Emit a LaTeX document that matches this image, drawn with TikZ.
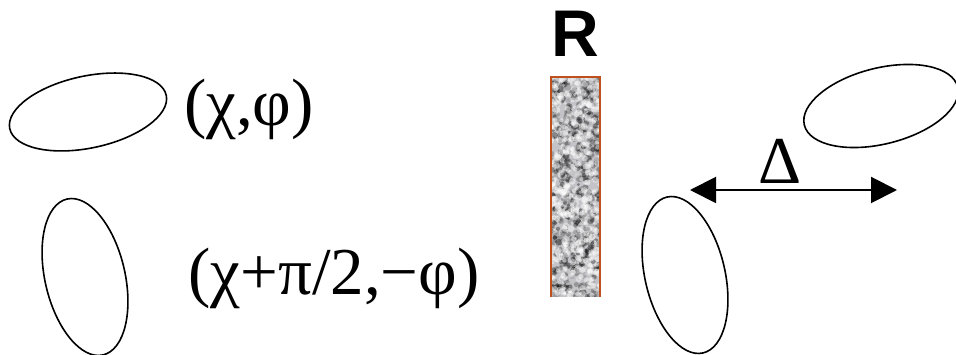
\documentclass[tikz,border=0pt]{standalone}
\usepackage{fontspec}
\setmainfont{Liberation Serif}
\setsansfont{Liberation Sans}
\usetikzlibrary{arrows.meta}
\definecolor{rust}{RGB}{190,80,30}
\definecolor{grain}{RGB}{196,196,200}

\begin{document}
\begin{tikzpicture}[x=1pt, y=1pt,
    pol/.style={draw=black, line width=1.6pt},
    lbl/.style={inner sep=0pt, font=\fontsize{67}{70}\selectfont},
    split/.style={line width=2pt, {Triangle[length=26pt,width=26pt]}-{Triangle[length=26pt,width=26pt]}}]
        \useasboundingbox (0,0) rectangle (956,355);
        % polarisation ellipses
        \draw[pol, rotate around={12:(88,243)}]  (88,243)  ellipse (80 and 36);
        \draw[pol, rotate around={13:(85,78)}]   (85,78)   ellipse (40 and 80);
        \draw[pol, rotate around={14:(881,249)}] (881,249) ellipse (79 and 38);
        \draw[pol, rotate around={13:(685,80)}]  (685,80)  ellipse (40 and 80);
        \node[lbl] (inA) at (249,246) {(χ,φ)};
        \node[lbl] (inB) at (334,77) {(χ+π/2,−φ)};
        % retarder R
        \fill[grain] (551,58) rectangle (600,278);
        \begin{scope}
            \clip (551,58) rectangle (600,278);
            \pgfmathsetseed{11}
            \foreach \i in {1,...,700} {
                \pgfmathsetmacro{\px}{551+49*rnd}
                \pgfmathsetmacro{\py}{58+220*rnd}
                \pgfmathsetmacro{\pg}{8+30*rnd}
                \pgfmathsetmacro{\pr}{1.5+2*rnd}
                \fill[black, opacity=\pg/100] (\px,\py) circle (\pr);
            }
            \pgfmathsetseed{5}
            \foreach \i in {1,...,450} {
                \pgfmathsetmacro{\px}{551+49*rnd}
                \pgfmathsetmacro{\py}{58+220*rnd}
                \pgfmathsetmacro{\pr}{1.5+2*rnd}
                \fill[white, opacity=0.45] (\px,\py) circle (\pr);
            }
        \end{scope}
        \draw[rust, line width=1.6pt] (551,58) -- (551,278) -- (600,278) -- (600,58);
        \node[lbl, font=\fontsize{66}{70}\selectfont\sffamily\bfseries] (ret) at (575.5,321) {R};
        % beam splitting
        \coordinate (dl) at (690,165);
        \coordinate (dr) at (897,165);
        \draw[split] (dl) -- (dr);
        \node[lbl] (del) at (780,194) {Δ};
\end{tikzpicture}
\end{document}
